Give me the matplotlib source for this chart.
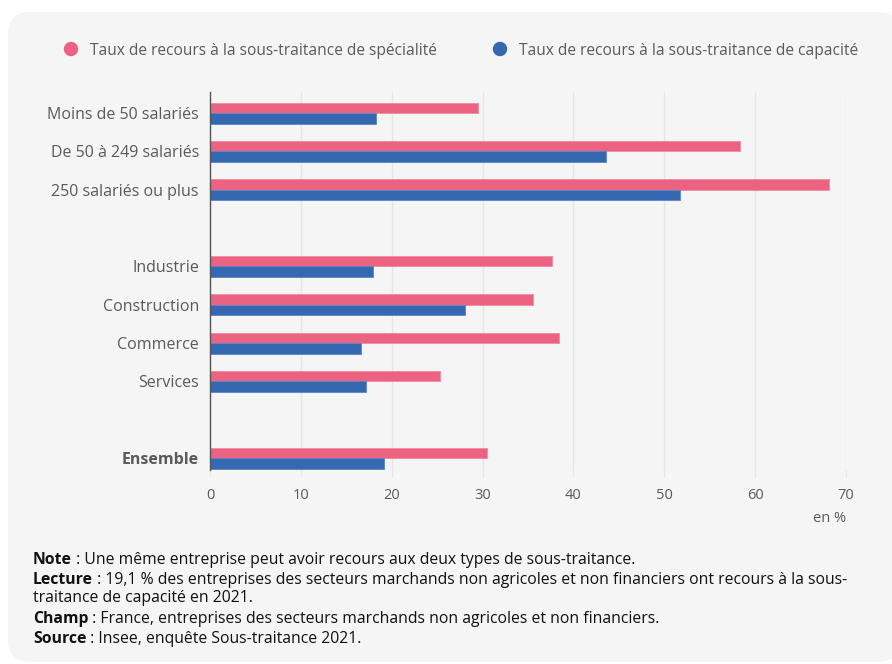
import matplotlib.pyplot as plt
from matplotlib.patches import FancyBboxPatch, Ellipse
import numpy as np

categories = ['Moins de 50 salariés', 'De 50 à 249 salariés', '250 salariés ou plus',
              'Industrie', 'Construction', 'Commerce', 'Services', 'Ensemble']
specialite = [29.5, 58.3, 68.1, 37.6, 35.5, 38.4, 25.3, 30.5]
capacite = [18.3, 43.6, 51.7, 17.9, 28.1, 16.6, 17.2, 19.1]
positions = [0, 1, 2, 4, 5, 6, 7, 9]
ticks = [0, 10, 20, 30, 40, 50, 60, 70]

PINK = '#EC6281'
BLUE = '#3468B1'
GREY = '#5a5a5a'
BG = '#f5f5f5'

plt.rcParams['font.family'] = ['Open Sans', 'DejaVu Sans']

W, H = 892, 664
fig = plt.figure(figsize=(W / 100, H / 100), dpi=100)
fig.patch.set_facecolor('white')

# rounded grey card
card = FancyBboxPatch((8 / W, 2 / H), 1.0, (H - 14) / H,
                      boxstyle='round,pad=0,rounding_size=0.025',
                      transform=fig.transFigure, facecolor=BG, edgecolor='none',
                      zorder=-5, mutation_aspect=W / H)
fig.patches.append(card)

ax = fig.add_axes([210 / W, 1 - 470 / H, (846 - 210) / W, (470 - 92) / H])
ax.set_facecolor('none')
ax.set_zorder(2)

pos = np.array(positions)
h = 0.275
ax.barh(pos - h / 2, specialite, height=h, color=PINK, edgecolor='#f28aa0', linewidth=0.6, zorder=3)
ax.barh(pos + h / 2, capacite, height=h, color=BLUE, edgecolor='#5a86c4', linewidth=0.6, zorder=3)

ax.set_xlim(0, 70)
ax.set_ylim(9.31, -0.55)
ax.set_xticks(ticks)
ax.set_xticklabels([str(t) for t in ticks], fontsize=10.5, color=GREY)
ax.set_yticks(positions)
ax.set_yticklabels(categories, fontsize=11.5, color=GREY)
ax.get_yticklabels()[-1].set_fontweight('bold')
ax.tick_params(axis='y', length=0, pad=8)
ax.tick_params(axis='x', length=5, color='#e6e6e6', pad=8)
ax.grid(axis='x', color='#e6e6e6', linewidth=1, zorder=0)
for s in ['top', 'right', 'bottom']:
    ax.spines[s].set_visible(False)
ax.spines['left'].set_color('#555555')
ax.spines['left'].set_linewidth(1)
ax.spines['left'].set_zorder(4)

ax.text(1.0, -0.128, 'en %', transform=ax.transAxes, ha='right', va='center',
        fontsize=10.5, color=GREY)

# legend
fig.patches.append(Ellipse((71 / W, 1 - 49 / H), 13 / W, 13 / H, transform=fig.transFigure, color=PINK))
fig.text(90 / W, 1 - 51 / H, 'Taux de recours à la sous-traitance de spécialité',
         fontsize=11.2, color=GREY, va='center')
fig.patches.append(Ellipse((500 / W, 1 - 49 / H), 13 / W, 13 / H, transform=fig.transFigure, color=BLUE))
fig.text(519 / W, 1 - 51 / H, 'Taux de recours à la sous-traitance de capacité',
         fontsize=11.2, color=GREY, va='center')

# notes
notes = [
    ('Note', ' : Une même entreprise peut avoir recours aux deux types de sous-traitance.', 568),
    ('Lecture', ' : 19,1 % des entreprises des secteurs marchands non agricoles et non financiers ont recours à la sous-', 588),
    ('', 'traitance de capacité en 2021.', 606),
    ('Champ', ' : France, entreprises des secteurs marchands non agricoles et non financiers.', 627),
    ('Source', ' : Insee, enquête Sous-traitance 2021.', 647),
]
for bold, rest, y in notes:
    t = fig.text(33 / W, 1 - y / H, bold, fontsize=11.3, fontweight='bold', color='#111111', va='bottom')
    ax.annotate(rest, xy=(1, 0), xycoords=t, fontsize=11.3, color='#111111',
                va='bottom', ha='left', annotation_clip=False)

fig.savefig('out.png', dpi=100)
